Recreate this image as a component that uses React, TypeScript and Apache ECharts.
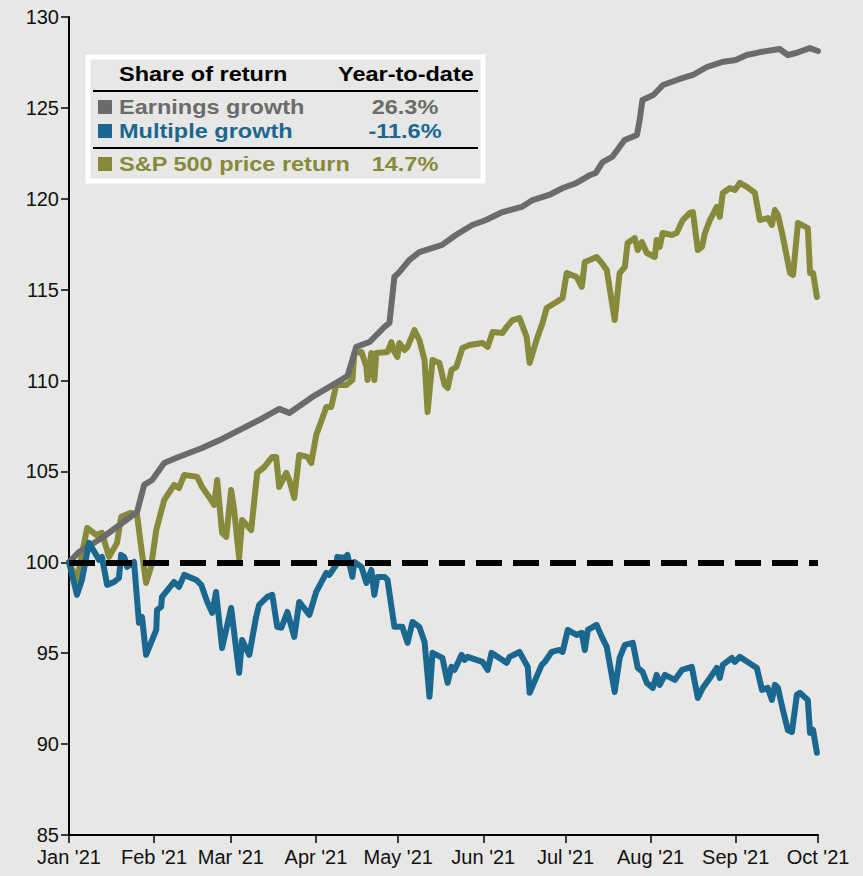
import React, { useEffect, useRef } from "react";
import * as echarts from "echarts";

// ---- Data (days since Jan 1, 2021 ; index level, Jan 1 = 100) ----
const monthDays = [0, 31, 59, 90, 120, 151, 181, 212, 243, 273];
const monthLabels = ["Jan '21", "Feb '21", "Mar '21", "Apr '21", "May '21", "Jun '21", "Jul '21", "Aug '21", "Sep '21", "Oct '21"];
const yTicks = [85, 90, 95, 100, 105, 110, 115, 120, 125, 130];
const baselineValue = 100;

const earningsDays = [0, 3.6, 12, 24.8, 27.4, 30.3, 34.7, 39, 48.5, 55.8, 69.3, 76.6, 80.3, 88.7, 97.4, 101.5, 104.7, 109.5, 115, 116.8, 118.6, 120.4, 124, 127.7, 136, 141, 147, 152, 158, 165, 169, 175, 180, 185, 190, 192, 194.5, 198, 202.5, 207, 208, 209, 213, 216.5, 222.6, 227.4, 232.5, 238, 243, 247, 252, 259, 262, 265, 270, 273];
const earningsValues = [100.0, 100.57, 101.34, 102.77, 104.26, 104.53, 105.47, 105.74, 106.29, 106.79, 107.83, 108.44, 108.22, 109.1, 109.87, 110.25, 111.85, 112.12, 112.95, 113.17, 115.7, 115.97, 116.63, 117.07, 117.46, 118.01, 118.56, 118.83, 119.27, 119.55, 119.93, 120.21, 120.59, 120.87, 121.31, 121.42, 122.02, 122.3, 123.23, 123.51, 124.33, 125.43, 125.71, 126.26, 126.59, 126.81, 127.25, 127.52, 127.63, 127.91, 128.07, 128.24, 127.91, 128.02, 128.29, 128.13];

const spDays = [0, 2.9, 6.6, 9.9, 12, 14.6, 17.5, 19, 22.6, 24.8, 26.3, 28.1, 29.9, 31.8, 34.7, 38.3, 40.1, 42, 46.7, 48.5, 51.8, 52.9, 54, 55.8, 57.3, 59.1, 60.2, 62, 63.1, 66.4, 68.6, 71.2, 74.1, 75.5, 76.6, 79.2, 80.3, 82.1, 83.9, 86.9, 88.3, 90.1, 91.2, 93.8, 95.6, 97.4, 101.1, 103.3, 104, 106.6, 108.4, 108.8, 110.2, 111.3, 112, 116.1, 117.5, 118.6, 119.7, 120.4, 122.3, 123.4, 125.9, 127.7, 129.6, 130.7, 132.5, 135, 136.9, 138, 139.4, 141.2, 143.4, 146, 150.7, 152.6, 154.4, 158, 159.5, 161.7, 164.2, 166.8, 167.9, 170.4, 172.6, 174.1, 177.7, 179.9, 181.4, 185, 186.9, 188, 189.8, 192.3, 194.2, 196, 198.9, 200.7, 202.6, 203.6, 206.2, 207.3, 208.8, 210.6, 213.5, 214.2, 215.3, 216.4, 219.7, 221.5, 223.7, 226.3, 227.4, 229.2, 230.7, 231.8, 233.6, 236.1, 237.2, 238.3, 240.9, 242.7, 244.5, 247.1, 250, 251.8, 254.7, 256.2, 257.3, 258.4, 259.9, 262.8, 263.9, 265.7, 269.3, 270.1, 271.2, 272.6];
const spValues = [100.0, 99.03, 101.89, 101.51, 101.62, 100.3, 101.07, 102.5, 102.72, 102.61, 100.85, 98.87, 99.75, 101.78, 103.43, 104.26, 104.09, 104.81, 104.7, 104.15, 103.43, 103.16, 104.53, 101.62, 101.4, 103.98, 102.88, 100.24, 102.33, 101.78, 104.92, 105.25, 105.8, 105.8, 104.15, 104.92, 104.53, 103.54, 105.91, 105.8, 105.47, 107.01, 107.45, 108.55, 108.55, 109.76, 109.76, 110.03, 111.52, 111.57, 110.75, 110.03, 111.52, 110.03, 111.52, 111.57, 112.12, 111.57, 111.3, 112.07, 111.68, 111.85, 112.78, 112.23, 111.13, 108.27, 111.13, 110.97, 109.76, 109.59, 110.58, 110.75, 111.79, 111.96, 112.07, 111.85, 112.67, 112.62, 112.95, 113.33, 113.44, 112.4, 110.97, 112.23, 113.17, 113.99, 114.32, 114.54, 115.92, 115.7, 115.15, 116.52, 116.63, 116.8, 116.47, 116.08, 113.33, 115.92, 116.25, 117.57, 117.84, 117.18, 117.62, 117.02, 116.8, 117.73, 117.35, 118.12, 118.01, 118.12, 118.83, 119.22, 119.27, 117.18, 117.35, 118.12, 118.83, 119.55, 119.0, 120.32, 120.59, 120.48, 120.87, 120.65, 120.32, 118.83, 118.94, 118.56, 119.38, 119.11, 118.12, 115.92, 115.81, 118.67, 118.39, 115.92, 115.92, 114.6];

const multipleDays = [0, 2.9, 4.7, 7.3, 9.9, 10.9, 12, 13.9, 16.4, 18.2, 19, 20.1, 21.2, 23.7, 25.5, 26.6, 28.1, 31.8, 32.1, 33.6, 33.9, 38.3, 40.1, 42, 46.4, 48.2, 50.4, 52.2, 53.6, 55.8, 59.1, 62, 63.1, 65.7, 68.2, 69.3, 72.3, 74.1, 75.9, 77.4, 79.6, 82.1, 83.9, 87.6, 90.1, 93.8, 94.9, 97.4, 97.8, 100.4, 101.5, 103.3, 104, 106.6, 108.4, 110.2, 111.3, 112.4, 115, 116.1, 118.6, 121.5, 123.4, 125.2, 127.7, 129.6, 131.4, 132.5, 136.1, 138, 139.4, 140.5, 143.1, 144.2, 145.3, 150.7, 152.6, 154, 158, 159.5, 160.6, 164.2, 167.2, 167.9, 172.3, 173.4, 175.9, 178.8, 179.9, 181.8, 185, 186.9, 188, 189.1, 192.3, 194.2, 196, 198.9, 200.7, 202.6, 205.5, 207.3, 209.1, 210.6, 212.8, 214.2, 215.3, 217.2, 220.8, 223.4, 227, 229.2, 231, 233.6, 236.1, 237.2, 238.3, 241.6, 242.7, 244.5, 247.4, 250.7, 252.6, 254.7, 256.2, 257.3, 258.4, 260.2, 262, 263.5, 265.3, 266.4, 269.3, 270.1, 271.2, 272.6];
const multipleValues = [100.0, 98.21, 99.03, 101.07, 100.41, 100.14, 100.3, 98.76, 98.92, 99.14, 100.41, 100.3, 99.75, 100.02, 96.67, 97.0, 94.91, 96.28, 97.38, 97.55, 98.1, 98.92, 98.65, 99.31, 99.03, 98.76, 97.82, 97.22, 98.37, 95.29, 97.49, 93.92, 95.73, 94.91, 97.0, 97.66, 98.1, 98.21, 96.45, 96.4, 97.27, 95.9, 97.82, 97.11, 98.37, 99.42, 99.31, 99.86, 100.3, 100.24, 100.41, 99.2, 100.02, 99.75, 98.87, 99.58, 98.21, 99.2, 99.2, 99.03, 96.45, 96.45, 95.57, 96.72, 96.45, 95.62, 92.6, 95.02, 94.74, 93.37, 94.25, 94.08, 94.91, 94.63, 94.8, 94.52, 94.08, 95.02, 94.63, 94.47, 94.8, 95.07, 94.25, 92.82, 94.36, 94.52, 95.07, 95.18, 95.07, 96.28, 96.01, 96.12, 95.18, 96.28, 96.56, 95.9, 95.35, 92.87, 94.74, 95.46, 95.57, 94.19, 93.97, 93.37, 93.09, 93.81, 93.26, 93.81, 93.53, 94.08, 94.25, 92.54, 93.09, 93.64, 94.19, 93.64, 94.36, 94.74, 94.52, 94.8, 94.52, 94.19, 92.98, 93.09, 92.43, 93.26, 93.09, 91.88, 90.78, 90.67, 92.71, 92.82, 92.43, 90.62, 90.78, 89.52];

const legendHeader = ["Share of return", "Year-to-date"];
const legendNames = ["Earnings growth", "Multiple growth", "S&P 500 price return"];
const legendValues = ["26.3%", "-11.6%", "14.7%"];

const BG = "#e7e7e6";
const GRAY = "#6b6b6b";
const BLUE = "#1a6890";
const OLIVE = "#878a3a";
const FONT = "'Liberation Sans', Arial, Helvetica, sans-serif";

const zip = (xs: number[], ys: number[]) => xs.map((x, i) => [x, ys[i]]);

export default function App() {
  const ref = useRef<HTMLDivElement>(null);
  useEffect(() => {
    if (!ref.current) return;
    const chart = echarts.init(ref.current, undefined, { renderer: "svg" });
    const lineSeries = (name: string, data: number[][], color: string, z: number, extra: any = {}) => ({
      name,
      type: "line",
      data,
      showSymbol: false,
      symbol: "none",
      z,
      lineStyle: { color, width: 6, cap: "round", join: "round" },
      itemStyle: { color },
      emphasis: { disabled: true },
      ...extra,
    });

    const legendText = (text: string, x: number, y: number, color: string, align: string) => ({
      type: "text",
      x,
      y,
      scaleX: 1.12,
      z: 101,
      style: {
        text,
        fill: color,
        fontSize: 21,
        fontWeight: "bold",
        fontFamily: FONT,
        align,
        textAlign: align,
        verticalAlign: "middle",
        textVerticalAlign: "middle",
      },
    });
    const colors = [GRAY, BLUE, OLIVE];
    const rowY = [107, 131, 164];
    const squareY = [100, 124, 157];

    const graphics: any[] = [
      {
        type: "rect",
        z: 100,
        shape: { x: 88, y: 57, width: 395, height: 124 },
        style: { fill: BG, stroke: "#ffffff", lineWidth: 5 },
      },
      legendText(legendHeader[0], 119, 74, "#000", "left"),
      legendText(legendHeader[1], 338, 74, "#000", "left"),
      { type: "line", z: 101, shape: { x1: 93, y1: 91, x2: 478, y2: 91 }, style: { stroke: "#000", lineWidth: 2 } },
      { type: "line", z: 101, shape: { x1: 93, y1: 148, x2: 478, y2: 148 }, style: { stroke: "#000", lineWidth: 2 } },
    ];
    legendNames.forEach((n, i) => {
      graphics.push({
        type: "rect",
        z: 101,
        shape: { x: 98, y: squareY[i], width: 14, height: 14 },
        style: { fill: colors[i] },
      });
      graphics.push(legendText(n, 119, rowY[i], colors[i], "left"));
      graphics.push(legendText(legendValues[i], 405, rowY[i], colors[i], "center"));
    });

    chart.setOption({
      animation: false,
      backgroundColor: BG,
      grid: { left: 69, right: 45, top: 17, bottom: 41, containLabel: false },
      xAxis: {
        type: "value",
        min: monthDays[0],
        max: monthDays[monthDays.length - 1],
        axisLine: { show: true, onZero: false, lineStyle: { color: "#000", width: 2 } },
        axisTick: { show: true, length: 8, lineStyle: { color: "#000", width: 1.5 }, customValues: monthDays },
        axisLabel: {
          customValues: monthDays,
          formatter: (v: number) => {
            const i = monthDays.indexOf(Math.round(v));
            return i >= 0 ? monthLabels[i] : "";
          },
          fontSize: 20,
          color: "#111",
          fontFamily: FONT,
          margin: 12,
        },
        splitLine: { show: false },
      },
      yAxis: {
        type: "value",
        min: yTicks[0],
        max: yTicks[yTicks.length - 1],
        interval: 5,
        axisLine: { show: true, lineStyle: { color: "#000", width: 2 } },
        axisTick: { show: true, length: 8, lineStyle: { color: "#000", width: 1.5 } },
        axisLabel: { fontSize: 20, color: "#111", fontFamily: FONT, margin: 10 },
        splitLine: { show: false },
      },
      graphic: graphics,
      series: [
        lineSeries("S&P 500 price return", zip(spDays, spValues), OLIVE, 2),
        lineSeries("Earnings growth", zip(earningsDays, earningsValues), GRAY, 3),
        lineSeries("Multiple growth", zip(multipleDays, multipleValues), BLUE, 4, {
          markLine: {
            silent: true,
            symbol: ["none", "none"],
            label: { show: false },
            lineStyle: { color: "#000", width: 6, type: [26, 11], cap: "butt" },
            data: [{ yAxis: baselineValue }],
          },
        }),
      ],
    });
    return () => chart.dispose();
  }, []);
  return (
    <div
      ref={ref}
      style={{ position: "fixed", left: 0, top: 0, width: 863, height: 876, background: BG }}
    />
  );
}
